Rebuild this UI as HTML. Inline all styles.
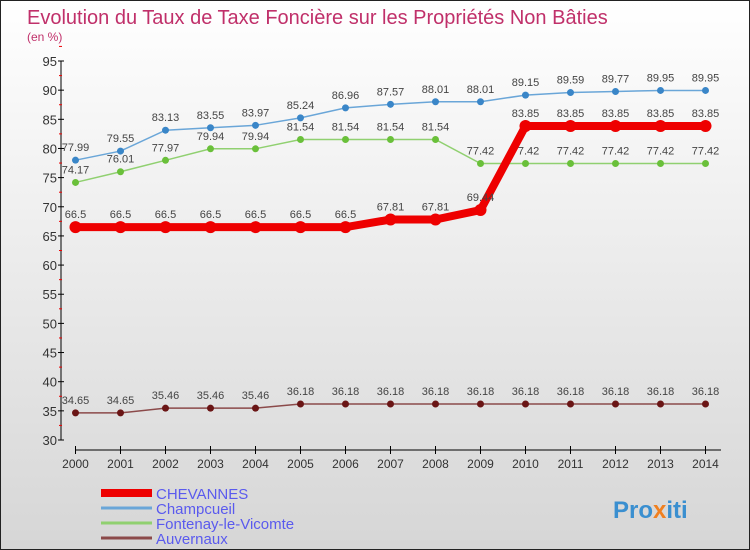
<!DOCTYPE html>
<html><head><meta charset="utf-8"><style>
body{margin:0}
#c{width:750px;height:550px;position:relative;box-sizing:border-box;border:1px solid #222;background:linear-gradient(#ffffff,#d6d6d6);font-family:"Liberation Sans",sans-serif;overflow:hidden}
</style></head><body>
<div id="c">
<svg id="s" width="748" height="548" xmlns="http://www.w3.org/2000/svg">
<text x="26" y="23" font-size="20" fill="#c0306a">Evolution du Taux de Taxe Foncière sur les Propriétés Non Bâties</text>
<text x="26" y="40" font-size="12" fill="#c0306a">(en %)</text>
<g id="axes"></g><g id="series"></g>
<text x="612" y="517" font-size="24" font-weight="bold" fill="#3a8fd0">Pro<tspan fill="#f08020">x</tspan>iti</text>
</svg></div>
<script>
const years=[2000,2001,2002,2003,2004,2005,2006,2007,2008,2009,2010,2011,2012,2013,2014];
const chevannes=[66.5,66.5,66.5,66.5,66.5,66.5,66.5,67.81,67.81,69.44,83.85,83.85,83.85,83.85,83.85];
const champcueil=[77.99,79.55,83.13,83.55,83.97,85.24,86.96,87.57,88.01,88.01,89.15,89.59,89.77,89.95,89.95];
const fontenay=[74.17,76.01,77.97,79.94,79.94,81.54,81.54,81.54,81.54,77.42,77.42,77.42,77.42,77.42,77.42];
const auvernaux=[34.65,34.65,35.46,35.46,35.46,36.18,36.18,36.18,36.18,36.18,36.18,36.18,36.18,36.18,36.18];
const yTicks=[30,35,40,45,50,55,60,65,70,75,80,85,90,95];
const NS="http://www.w3.org/2000/svg";
const X=i=>74.5+i*45, Y=v=>439-(v-30)*(379/65);
function mk(tag,at,par,txt){const e=document.createElementNS(NS,tag);for(const k in at)e.setAttribute(k,at[k]);if(txt!==undefined)e.textContent=txt;par.appendChild(e);return e;}
const ax=document.getElementById('axes'),sg=document.getElementById('series');
let e=mk('line',{x1:60,y1:Y(95),x2:60,y2:Y(30),stroke:'#000'},ax);


e=mk('line',{x1:74,y1:449,x2:720,y2:449,stroke:'#000'},ax);


yTicks.forEach(v=>{
 mk('line',{x1:57,y1:Y(v),x2:63,y2:Y(v),stroke:'#000'},ax);
 mk('line',{x1:58,y1:Y(v+2.5),x2:61,y2:Y(v+2.5),stroke:'#e00'},ax);
 e=mk('text',{x:56,y:Y(v)+5,'font-size':13,'text-anchor':'end',fill:'#333'},ax,v);
 
 
});
years.forEach((y,i)=>{
 mk('line',{x1:X(i),y1:445,x2:X(i),y2:453,stroke:'#000'},ax);
 e=mk('text',{x:X(i),y:467,'font-size':12,'text-anchor':'middle',fill:'#333'},ax,y);
 
 
});
function series(d,col,w,r,name,dark){
 const g=mk('g',{},sg);
 
 
 mk('polyline',{points:d.map((v,i)=>X(i)+','+Y(v)).join(' '),fill:'none',stroke:col,'stroke-width':w},g);
 d.forEach((v,i)=>{
  e=mk('circle',{cx:X(i),cy:Y(v),r:r,fill:dark,stroke:'none'},g);
  
  
  e=mk('text',{x:X(i),y:Y(v)-9,'font-size':11,'text-anchor':'middle',fill:'#444'},g,v);
  
  
 });
}
series(auvernaux,'#8b4a4a',1.5,3.5,'auvernaux','#6a1515');
series(fontenay,'#90d070',1.5,3.5,'fontenay','#6ac03a');
series(champcueil,'#6aa6d8',1.5,3.5,'champcueil','#3a86c8');
series(chevannes,'#ee0000',8,6,'chevannes','#ee0000');
const legend=[['CHEVANNES','#ee0000',8],['Champcueil','#6aa6d8',3],['Fontenay-le-Vicomte','#90d070',3],['Auvernaux','#8b4a4a',3]];
legend.forEach((l,i)=>{
 const g=mk('g',{},sg);
 
 
 const y=492+i*15;
 mk('line',{x1:100,y1:y,x2:151,y2:y,stroke:l[1],'stroke-width':l[2]},g);
 mk('text',{x:155,y:y+6,'font-size':15,fill:'#5a5aee'},g,l[0]);
});
</script>
</body></html>
